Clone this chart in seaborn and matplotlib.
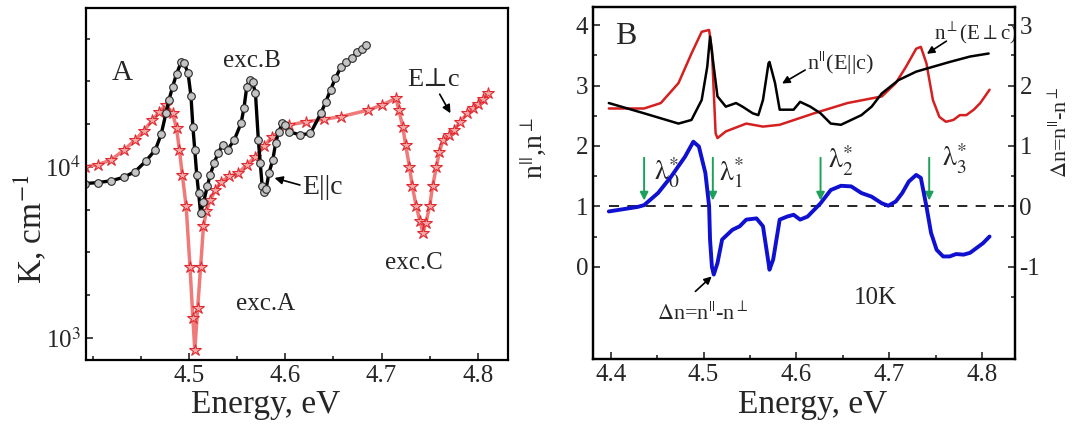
import matplotlib
matplotlib.use("Agg")
import matplotlib.pyplot as plt
import matplotlib.ticker as mticker
import pandas as pd
import seaborn as sns

sns.set_theme(style="ticks")
plt.rcParams["font.family"] = ["Liberation Serif", "DejaVu Serif"]
plt.rcParams["mathtext.fontset"] = "stix"
plt.rcParams["axes.unicode_minus"] = False

# ---- panel A: absorption K (cm^-1), log scale ----
par_E = [4.392, 4.405, 4.419, 4.432, 4.444, 4.455, 4.465, 4.471, 4.476, 4.479,
         4.483, 4.487, 4.492, 4.495, 4.499, 4.502, 4.504, 4.506, 4.508, 4.510,
         4.512, 4.515, 4.519, 4.522, 4.526, 4.530, 4.535, 4.540, 4.547, 4.554,
         4.557, 4.560, 4.563, 4.566, 4.569, 4.572, 4.574, 4.576, 4.578, 4.580,
         4.583, 4.587, 4.590, 4.593, 4.597, 4.600, 4.604, 4.615, 4.626, 4.637,
         4.642, 4.647, 4.652, 4.658, 4.663, 4.669, 4.675, 4.680, 4.684]
par_K = [8000, 8100, 8300, 8700, 9400, 10800, 12600, 15500, 20600, 24500,
         29500, 35000, 41300, 40500, 35300, 26000, 17200, 12500, 9000, 7000,
         5400, 6200, 7700, 9000, 10500, 12000, 13500, 12600, 14400, 18000,
         22000, 29500, 32300, 31500, 27000, 14400, 10500, 7700, 7100, 7400,
         9200, 11000, 13800, 16000, 18000, 17500, 16100, 15400, 15700, 20600,
         24000, 28200, 33000, 38600, 41000, 43300, 47200, 49000, 51600]

perp_E = [4.392, 4.405, 4.419, 4.432, 4.444, 4.453, 4.462, 4.469, 4.476, 4.483,
          4.487, 4.490, 4.493, 4.497, 4.501, 4.504, 4.506, 4.509, 4.512, 4.515,
          4.518, 4.522, 4.527, 4.533, 4.542, 4.551, 4.560, 4.569, 4.578, 4.586,
          4.604, 4.622, 4.640, 4.658, 4.686, 4.700, 4.715, 4.718, 4.722, 4.725,
          4.729, 4.732, 4.736, 4.740, 4.743, 4.746, 4.750, 4.753, 4.757, 4.760,
          4.764, 4.770, 4.775, 4.782, 4.789, 4.795, 4.800, 4.805, 4.811]
perp_K = [10000, 10300, 11000, 12500, 14400, 16300, 18800, 21000, 23100, 20600,
          16800, 12600, 9000, 5900, 2600, 1300, 851, 1500, 2600, 4500,
          5500, 6400, 7300, 8200, 8800, 9200, 10300, 11500, 13200, 15000,
          17600, 18400, 19000, 19700, 21500, 23000, 25200, 21500, 17200, 13500,
          10000, 7700, 5900, 4800, 4100, 4700, 5900, 7700, 10000, 12200,
          14400, 15400, 16400, 18400, 20600, 22000, 23500, 25000, 27000]

# ---- panel B: refractive indices and birefringence ----
nperp_E = [4.398, 4.436, 4.454, 4.473, 4.487, 4.498, 4.506, 4.509, 4.513, 4.515,
           4.524, 4.546, 4.564, 4.582, 4.619, 4.655, 4.692, 4.707, 4.718, 4.729,
           4.734, 4.740, 4.747, 4.754, 4.761, 4.769, 4.776, 4.783, 4.791, 4.798,
           4.808]
nperp = [2.62, 2.62, 2.71, 3.04, 3.53, 3.89, 3.92, 3.59, 2.21, 2.13,
         2.24, 2.37, 2.32, 2.35, 2.54, 2.71, 2.82, 3.04, 3.31, 3.61,
         3.64, 3.37, 2.76, 2.48, 2.40, 2.43, 2.51, 2.51, 2.60, 2.71,
         2.93]

npar_E = [4.398, 4.436, 4.473, 4.487, 4.498, 4.504, 4.507, 4.511, 4.515, 4.524,
          4.535, 4.542, 4.553, 4.559, 4.564, 4.570, 4.571, 4.577, 4.582, 4.590,
          4.597, 4.604, 4.615, 4.626, 4.637, 4.648, 4.659, 4.670, 4.681, 4.692,
          4.710, 4.729, 4.747, 4.765, 4.787, 4.807]
npar = [2.71, 2.54, 2.37, 2.43, 2.76, 3.31, 3.81, 3.31, 2.82, 2.65,
        2.71, 2.65, 2.54, 2.51, 2.76, 3.37, 3.39, 3.04, 2.60, 2.60,
        2.60, 2.73, 2.65, 2.54, 2.37, 2.35, 2.43, 2.51, 2.65, 2.87,
        3.09, 3.23, 3.31, 3.39, 3.48, 3.53]

dn_E = [4.398, 4.429, 4.436, 4.451, 4.465, 4.480, 4.489, 4.495, 4.502, 4.506,
        4.507, 4.509, 4.511, 4.515, 4.520, 4.531, 4.539, 4.546, 4.557, 4.564,
        4.570, 4.571, 4.575, 4.582, 4.590, 4.597, 4.604, 4.612, 4.619, 4.626,
        4.637, 4.648, 4.659, 4.670, 4.681, 4.692, 4.699, 4.707, 4.714, 4.721,
        4.729, 4.734, 4.740, 4.745, 4.751, 4.758, 4.765, 4.772, 4.780, 4.787,
        4.794, 4.801, 4.808]
dn = [-0.085, -0.01, 0.02, 0.22, 0.49, 0.82, 1.07, 0.99, 0.55, 0.00,
      -0.55, -1.00, -1.13, -0.94, -0.55, -0.39, -0.33, -0.22, -0.20, -0.33,
      -0.94, -1.05, -0.88, -0.22, -0.17, -0.14, -0.22, -0.17, -0.06, 0.05,
      0.27, 0.34, 0.33, 0.22, 0.16, 0.05, 0.01, 0.08, 0.22, 0.41,
      0.52, 0.47, 0.00, -0.44, -0.72, -0.83, -0.83, -0.79, -0.80, -0.77,
      -0.69, -0.61, -0.50]

lambda_E = [4.436, 4.510, 4.626, 4.743]
lambda_labels = [r"$\mathrm{\lambda}^{*}_{0}$", r"$\mathrm{\lambda}^{*}_{1}$",
                 r"$\mathrm{\lambda}^{*}_{2}$", r"$\mathrm{\lambda}^{*}_{3}$"]

dfA_par = pd.DataFrame({"E": par_E, "K": par_K})
dfA_perp = pd.DataFrame({"E": perp_E, "K": perp_K})

fig = plt.figure(figsize=(10.81, 4.25), dpi=100)
axA = fig.add_axes([0.0796, 0.153, 0.390, 0.828])
axB = fig.add_axes([0.5486, 0.155, 0.390, 0.8285])

# ---------------- panel A ----------------
sns.lineplot(data=dfA_perp, x="E", y="K", ax=axA, estimator=None, sort=False,
             color="#f07a7a", lw=2.5, marker="*", markersize=9,
             markerfacecolor="#f6a8a8", markeredgecolor="#e02a30",
             markeredgewidth=0.8)
sns.lineplot(data=dfA_par, x="E", y="K", ax=axA, estimator=None, sort=False,
             color="black", lw=2.4, marker="o", markersize=5.5,
             markerfacecolor="#c4c4c4", markeredgecolor="#2a2a2a",
             markeredgewidth=0.8)
axA.set_yscale("log")
axA.set_xlim(4.393, 4.831)
axA.set_ylim(743, 85000)
axA.set_xticks([4.5, 4.6, 4.7, 4.8])
axA.xaxis.set_minor_locator(mticker.FixedLocator(
    [4.40, 4.45, 4.55, 4.65, 4.75]))
axA.yaxis.set_major_locator(mticker.FixedLocator([1e3, 1e4]))
axA.yaxis.set_major_formatter(mticker.FixedFormatter(
    [r"10$^{3}$", r"10$^{4}$"]))
axA.yaxis.set_minor_locator(mticker.FixedLocator(
    [10 ** 3.25, 10 ** 3.5, 10 ** 3.75, 10 ** 4.25, 10 ** 4.5, 10 ** 4.75]))
axA.yaxis.set_minor_formatter(mticker.NullFormatter())
axA.set_xlabel("Energy, eV", fontsize=24)
axA.set_ylabel(r"K, cm$^{-1}$", fontsize=24)
axA.xaxis.set_label_coords(0.425, -0.085)
axA.yaxis.set_label_coords(-0.09, 0.37)

axA.text(4.431, 10 ** 4.55, "A", fontsize=21, ha="center", va="center")
axA.text(4.565, 10 ** 4.62, "exc.B", fontsize=18, ha="center", va="center")
axA.text(4.579, 10 ** 3.2, "exc.A", fontsize=18, ha="center", va="center")
axA.text(4.734, 10 ** 3.44, "exc.C", fontsize=18, ha="center", va="center")
axA.text(4.754, 10 ** 4.51, "E\u22a5c", fontsize=19, ha="center", va="center",
         family=["Liberation Serif", "DejaVu Serif"])
axA.annotate("", xy=(4.773, 10 ** 4.30), xytext=(4.759, 10 ** 4.44),
             arrowprops=dict(arrowstyle="-|>", color="black", lw=1.2,
                             mutation_scale=12))
axA.text(4.618, 10 ** 3.88, "E||c", fontsize=20, ha="left", va="center")
axA.annotate("", xy=(4.586, 10 ** 3.94), xytext=(4.618, 10 ** 3.89),
             arrowprops=dict(arrowstyle="-|>", color="black", lw=1.2,
                             mutation_scale=12))

# ---------------- panel B ----------------
axB2 = axB.twinx()
sns.lineplot(x=nperp_E, y=nperp, ax=axB, estimator=None, sort=False,
             color="#d42020", lw=1.8)
sns.lineplot(x=npar_E, y=npar, ax=axB, estimator=None, sort=False,
             color="black", lw=1.8)
axB2.hlines(0, 4.398, 4.835, colors="black", linestyles=(0, (6, 5)), lw=1.2)
sns.lineplot(x=dn_E, y=dn, ax=axB2, estimator=None, sort=False,
             color="#1010d0", lw=2.8)

axB.set_xlim(4.381, 4.835)
axB.set_ylim(-1.53, 4.30)
axB2.set_ylim(-2.53, 3.30)
axB.set_xticks([4.4, 4.5, 4.6, 4.7, 4.8])
axB.xaxis.set_minor_locator(mticker.FixedLocator([4.45, 4.55, 4.65, 4.75]))
axB.set_yticks([0, 1, 2, 3, 4])
axB.yaxis.set_minor_locator(mticker.FixedLocator([0.5, 1.5, 2.5, 3.5]))
axB2.set_yticks([-1, 0, 1, 2, 3])
axB2.yaxis.set_minor_locator(mticker.FixedLocator([-1.5, -0.5, 0.5, 1.5, 2.5]))

axB.set_xlabel("Energy, eV", fontsize=24)
axB.xaxis.set_label_coords(0.52, -0.085)
axB.set_ylabel(r"n$^{||}$,n$^{\perp}$", fontsize=20)
axB.yaxis.set_label_coords(-0.105, 0.60)
axB2.set_ylabel(r"$\Delta$n=n$^{||}$-n$^{\perp}$", fontsize=16)
axB2.yaxis.set_label_coords(1.083, 0.645)

for e in lambda_E:
    axB.annotate("", xy=(e, 1.05), xytext=(e, 1.85),
                 arrowprops=dict(arrowstyle="-|>", color="#1fa05a", lw=1.4,
                                 mutation_scale=12))
lam_x = [4.460, 4.530, 4.648, 4.770]
lam_y = [1.55, 1.55, 1.75, 1.78]
for x, y, lab in zip(lam_x, lam_y, lambda_labels):
    axB.text(x, y, lab, fontsize=20, ha="center", va="center")

axB.text(4.416, 3.81, "B", fontsize=23, ha="center", va="center")
axB.text(4.793, 3.86, r"n$^{\perp}$(E$\perp$c)", fontsize=15,
         ha="center", va="center")
axB.annotate("", xy=(4.738, 3.50), xytext=(4.764, 3.76),
             arrowprops=dict(arrowstyle="-|>", color="black", lw=1.2,
                             mutation_scale=11))
axB.text(4.647, 3.37, r"n$^{||}$(E||c)", fontsize=16, ha="center",
         va="center")
axB.annotate("", xy=(4.582, 3.01), xytext=(4.612, 3.28),
             arrowprops=dict(arrowstyle="-|>", color="black", lw=1.2,
                             mutation_scale=11))
axB.text(4.685, -0.52, "10K", fontsize=18, ha="center", va="center")
axB.text(4.499, -0.78, r"$\Delta$n=n$^{||}$-n$^{\perp}$", fontsize=16,
         ha="center", va="center")
axB.annotate("", xy=(4.511, -0.13), xytext=(4.489, -0.44),
             arrowprops=dict(arrowstyle="-|>", color="black", lw=1.2,
                             mutation_scale=11))

for ax in (axA, axB, axB2):
    ax.tick_params(which="both", direction="in", labelsize=18, width=1.2)
    ax.tick_params(which="major", length=5)
    ax.tick_params(which="minor", length=3)
    for sp in ax.spines.values():
        sp.set_visible(True)
        sp.set_linewidth(1.6)
        sp.set_color("black")
axA.tick_params(which="both", right=False, top=False)
axB.tick_params(which="both", right=False, top=False)
axB2.tick_params(which="both", left=False, top=False, bottom=False)

fig.savefig("out.png", dpi=100)
